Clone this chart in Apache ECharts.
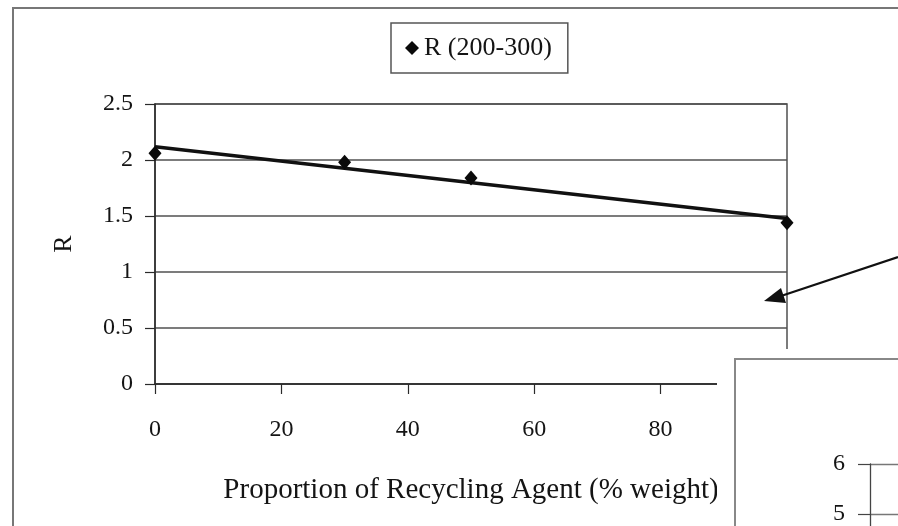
<!DOCTYPE html>
<html>
<head>
<meta charset="utf-8">
<script src="https://cdn.jsdelivr.net/npm/echarts@6/dist/echarts.min.js"></script>
<style>
  html, body { margin: 0; padding: 0; background: #fff; }
  #chart { width: 898px; height: 526px; }
</style>
</head>
<body>
<div id="chart"></div>
<script>
// Proportion of recycling agent (% weight) and measured R (200-300)
const proportion = [0, 30, 50, 100];
const rValues = [2.06, 1.98, 1.84, 1.44];
const seriesName = 'R (200-300)';

// Main axes ranges
const xRange = [0, 100, 20];
const yRange = [0, 2.5, 0.5];
// Partly hidden neighbouring panel: visible y ticks
const insetRange = [4, 6, 1];

// Least-squares linear trendline through the measured points
function linearTrend(xs, ys) {
  const n = xs.length;
  const mx = xs.reduce((a, b) => a + b, 0) / n;
  const my = ys.reduce((a, b) => a + b, 0) / n;
  let sxy = 0, sxx = 0;
  for (let i = 0; i < n; i++) {
    sxy += (xs[i] - mx) * (ys[i] - my);
    sxx += (xs[i] - mx) * (xs[i] - mx);
  }
  const slope = sxy / sxx;
  const icpt = my - slope * mx;
  return [[xs[0], icpt + slope * xs[0]], [xs[n - 1], icpt + slope * xs[n - 1]]];
}
const trend = linearTrend(proportion, rValues);

const serif = '"Liberation Serif", "Times New Roman", serif';
const ink = '#141414';
const gridGray = '#505050';

const chart = echarts.init(document.getElementById('chart'), null, { renderer: 'canvas' });

chart.setOption({
  animation: false,
  backgroundColor: '#fff',
  textStyle: { fontFamily: serif, color: ink },
  legend: {
    data: [{ name: seriesName, icon: 'diamond' }],
    left: 391,
    top: 23,
    padding: [12, 16, 12, 14],
    itemWidth: 14,
    itemHeight: 14,
    borderColor: '#555',
    borderWidth: 1.5,
    textStyle: { fontFamily: serif, fontSize: 26, color: ink }
  },
  grid: [
    { left: 155, top: 104, width: 632, height: 280, show: true, borderColor: gridGray, borderWidth: 1.5 },
    { left: 870, top: 464, width: 60, height: 100, show: false, outerBoundsMode: 'none', containLabel: false }
  ],
  xAxis: [
    {
      type: 'value', gridIndex: 0,
      min: xRange[0], max: xRange[1], interval: xRange[2],
      name: 'Proportion of Recycling Agent (% weight)',
      nameLocation: 'middle', nameGap: 92,
      nameTextStyle: { fontFamily: serif, fontSize: 29, color: ink },
      axisLine: { lineStyle: { color: '#2a2a2a', width: 1.5 } },
      axisTick: { length: 10, lineStyle: { color: '#2a2a2a', width: 1.2 } },
      axisLabel: { margin: 34, fontFamily: serif, fontSize: 24, color: ink },
      splitLine: { show: false }
    },
    { type: 'value', gridIndex: 1, min: 0, max: 1, show: false }
  ],
  yAxis: [
    {
      type: 'value', gridIndex: 0,
      min: yRange[0], max: yRange[1], interval: yRange[2],
      name: 'R', nameLocation: 'middle', nameGap: 78, nameRotate: 90,
      nameTextStyle: { fontFamily: serif, fontSize: 26, color: ink },
      axisLine: { show: true, lineStyle: { color: '#2a2a2a', width: 1.5 } },
      axisTick: { show: true, length: 10, lineStyle: { color: '#2a2a2a', width: 1.2 } },
      axisLabel: { margin: 22, fontFamily: serif, fontSize: 24, color: ink },
      splitLine: { show: true, lineStyle: { color: gridGray, width: 1.6 } }
    },
    {
      type: 'value', gridIndex: 1, z: 120,
      min: insetRange[0], max: insetRange[1], interval: insetRange[2],
      axisLine: { show: true, lineStyle: { color: '#444', width: 1.3 } },
      axisTick: { show: true, length: 12, lineStyle: { color: '#444', width: 1.2 } },
      axisLabel: { margin: 25, fontFamily: serif, fontSize: 24, color: ink },
      splitLine: { show: true, lineStyle: { color: '#777', width: 1.4 } }
    }
  ],
  series: [
    {
      type: 'line',
      name: 'trend',
      xAxisIndex: 0, yAxisIndex: 0,
      data: trend,
      showSymbol: false,
      lineStyle: { color: '#111', width: 3.5 },
      z: 3
    },
    {
      type: 'scatter',
      name: seriesName,
      xAxisIndex: 0, yAxisIndex: 0,
      data: proportion.map((p, i) => [p, rValues[i]]),
      symbol: 'diamond',
      symbolSize: [13, 15],
      itemStyle: { color: '#0a0a0a', opacity: 1 },
      z: 4
    }
  ],
  graphic: [
    // outer frame of the figure
    {
      type: 'polyline', z: 90,
      shape: { points: [[13, 526], [13, 8], [898, 8]] },
      style: { stroke: '#777', lineWidth: 2, fill: null }
    },
    // pointer arrow
    {
      type: 'line', z: 90,
      shape: { x1: 898, y1: 257, x2: 778, y2: 297 },
      style: { stroke: '#111', lineWidth: 2.2 }
    },
    {
      type: 'polygon', z: 90,
      shape: { points: [[764, 301], [781, 288], [786, 303]] },
      style: { fill: '#111' }
    },
    // neighbouring panel overlapping the lower right corner
    {
      type: 'rect', z: 100,
      shape: { x: 717, y: 349, width: 181, height: 177 },
      style: { fill: '#fff' }
    },
    {
      type: 'polyline', z: 101,
      shape: { points: [[735, 526], [735, 359], [898, 359]] },
      style: { stroke: '#888', lineWidth: 2, fill: null }
    }
  ]
});
</script>
</body>
</html>
